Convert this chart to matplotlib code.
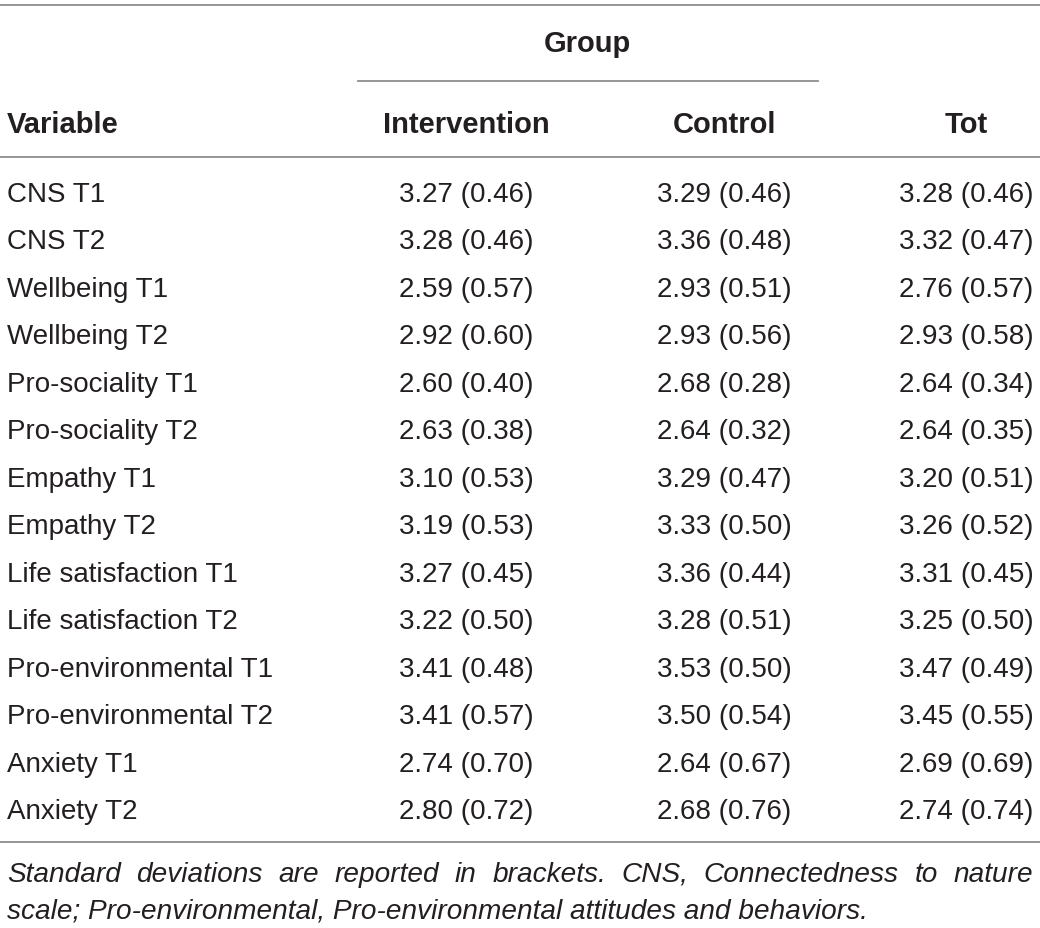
import matplotlib.pyplot as plt

plt.rcParams['font.family'] = ['Liberation Sans', 'DejaVu Sans']

variables = ["CNS T1", "CNS T2", "Wellbeing T1", "Wellbeing T2",
             "Pro-sociality T1", "Pro-sociality T2", "Empathy T1", "Empathy T2",
             "Life satisfaction T1", "Life satisfaction T2",
             "Pro-environmental T1", "Pro-environmental T2",
             "Anxiety T1", "Anxiety T2"]
intervention = ["3.27 (0.46)", "3.28 (0.46)", "2.59 (0.57)", "2.92 (0.60)",
                "2.60 (0.40)", "2.63 (0.38)", "3.10 (0.53)", "3.19 (0.53)",
                "3.27 (0.45)", "3.22 (0.50)", "3.41 (0.48)", "3.41 (0.57)",
                "2.74 (0.70)", "2.80 (0.72)"]
control = ["3.29 (0.46)", "3.36 (0.48)", "2.93 (0.51)", "2.93 (0.56)",
           "2.68 (0.28)", "2.64 (0.32)", "3.29 (0.47)", "3.33 (0.50)",
           "3.36 (0.44)", "3.28 (0.51)", "3.53 (0.50)", "3.50 (0.54)",
           "2.64 (0.67)", "2.68 (0.76)"]
total = ["3.28 (0.46)", "3.32 (0.47)", "2.76 (0.57)", "2.93 (0.58)",
         "2.64 (0.34)", "2.64 (0.35)", "3.20 (0.51)", "3.26 (0.52)",
         "3.31 (0.45)", "3.25 (0.50)", "3.47 (0.49)", "3.45 (0.55)",
         "2.69 (0.69)", "2.74 (0.74)"]
headers = ["Variable", "Intervention", "Control", "Tot"]
note_lines = ["Standard deviations are reported in brackets. CNS, Connectedness to nature",
              "scale; Pro-environmental, Pro-environmental attitudes and behaviors."]

W, H = 1040, 929
fig = plt.figure(figsize=(W / 100, H / 100), dpi=100)
ax = fig.add_axes([0, 0, 1, 1])
ax.set_xlim(0, W)
ax.set_ylim(H, 0)
ax.axis('off')

txt = '#231f20'
line_c = '#8c8c8c'
fs = 20         # body
fs_b = 21       # bold headers
fs_n = 20.2     # footnote

# rules
ax.plot([0, W], [5.5, 5.5], color=line_c, lw=1.3)
ax.plot([358, 818], [82, 82], color=line_c, lw=1.3)
ax.plot([0, W], [158, 158], color=line_c, lw=1.3)
ax.plot([0, W], [843, 843], color=line_c, lw=1.3)

# header
ax.text(587, 52, "Group", ha='center', va='baseline', fontsize=fs_b, fontweight='bold', color=txt)
col_x = [7, 466, 724, 966]
for i, h in enumerate(headers):
    ax.text(col_x[i], 133, h, ha='left' if i == 0 else 'center', va='baseline',
            fontsize=fs_b, fontweight='bold', color=txt)

# rows
y0, dy = 202, 47.46
for r in range(len(variables)):
    y = y0 + r * dy
    ax.text(col_x[0], y, variables[r], ha='left', va='baseline', fontsize=fs, color=txt)
    for c, vals in zip(col_x[1:], [intervention, control, total]):
        ax.text(c, y, vals[r], ha='center', va='baseline', fontsize=fs, color=txt)

# footnote, first line justified
fig.canvas.draw()
renderer = fig.canvas.get_renderer()


def width_of(s):
    t = ax.text(0, 0, s, fontsize=fs_n, style='italic')
    bb = t.get_window_extent(renderer)
    t.remove()
    return bb.width


words = note_lines[0].split()
widths = [width_of(w) for w in words]
left, right = 7, 1033
gap = (right - left - sum(widths)) / (len(words) - 1)
x = left
for w, wd in zip(words, widths):
    ax.text(x, 882, w, ha='left', va='baseline', fontsize=fs_n, style='italic', color=txt)
    x += wd + gap
ax.text(left, 919, note_lines[1], ha='left', va='baseline', fontsize=fs_n, style='italic', color=txt)

fig.savefig('out.png', dpi=100)
